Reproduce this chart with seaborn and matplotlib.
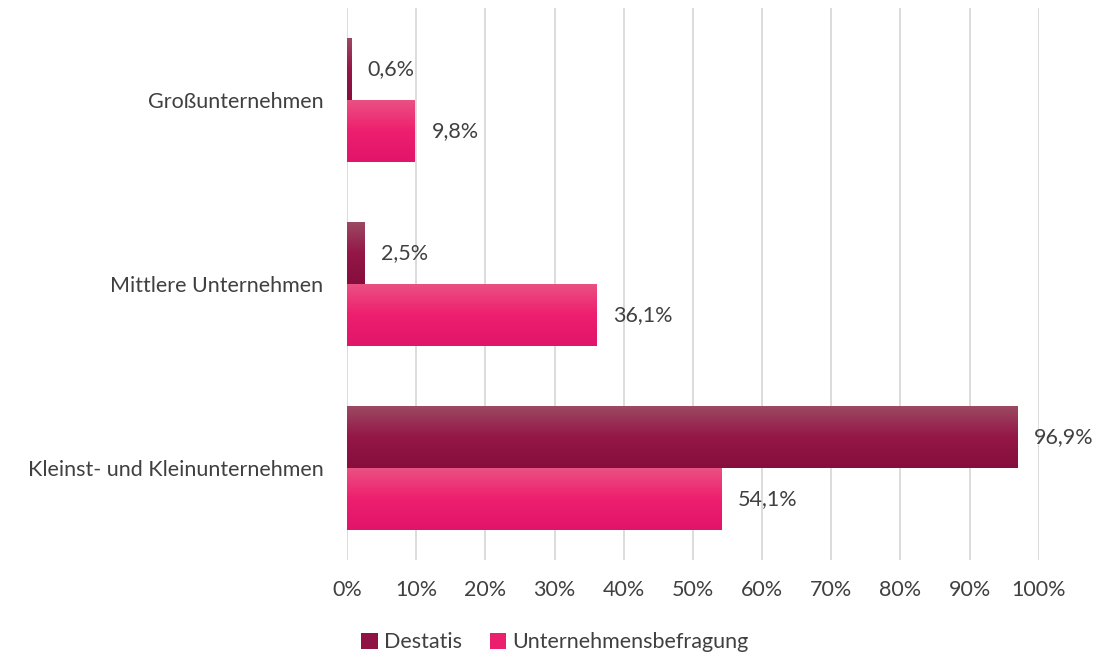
import numpy as np
import pandas as pd
import matplotlib
matplotlib.use("Agg")
import matplotlib.pyplot as plt
import seaborn as sns
from matplotlib.colors import LinearSegmentedColormap

categories = ["Großunternehmen", "Mittlere Unternehmen", "Kleinst- und Kleinunternehmen"]
series = ["Destatis", "Unternehmensbefragung"]
destatis = [0.6, 2.5, 96.9]
befragung = [9.8, 36.1, 54.1]
xticks = [0, 10, 20, 30, 40, 50, 60, 70, 80, 90, 100]

colors = {"Destatis": "#8E1244", "Unternehmensbefragung": "#EC1E6E"}
grads = {
    "Destatis": ["#9C4A63", "#941747", "#860E3C"],
    "Unternehmensbefragung": ["#EA5282", "#EE1F6F", "#E0146A"],
}

df = pd.DataFrame({
    "Kategorie": categories * 2,
    "Serie": [series[0]] * 3 + [series[1]] * 3,
    "Wert": destatis + befragung,
})

sns.set_theme(style="white")
plt.rcParams["font.family"] = ["Lato", "DejaVu Sans"]
txt = "#404040"
fs = 15.5

fig = plt.figure(figsize=(11.17, 6.56), dpi=100)
ax = fig.add_axes([0.3107, 0.146, 0.6195, 0.842])

sns.barplot(data=df, y="Kategorie", x="Wert", hue="Serie", order=categories,
            hue_order=series, palette=colors, orient="h", width=0.674, gap=0,
            ax=ax, legend=True, saturation=1, edgecolor="none", linewidth=0)

ax.set_xticks(xticks)
ax.set_xticklabels([f"{t}%" for t in xticks], fontsize=fs, color=txt)
ax.tick_params(axis="y", length=0, pad=17, labelsize=fs, labelcolor=txt)
ax.tick_params(axis="x", length=0, pad=14)
ax.set_xlabel("")
ax.set_ylabel("")
for s in ax.spines.values():
    s.set_visible(False)
ax.xaxis.grid(True, color="#D9D9D9", linewidth=1.3)
ax.set_axisbelow(True)

# gradients + labels
for container, name in zip(ax.containers, series):
    cmap = LinearSegmentedColormap.from_list(name, grads[name])
    for patch in container:
        x0, y0 = patch.get_x(), patch.get_y()
        w, h = patch.get_width(), patch.get_height()
        grad = np.linspace(0, 1, 64).reshape(-1, 1)
        im = ax.imshow(grad, cmap=cmap, aspect="auto",
                       extent=[x0, x0 + w, y0 + h, y0], origin="upper",
                       zorder=patch.get_zorder() + 0.1)
        im.set_clip_path(patch)
    ax.bar_label(container, labels=[f"{v:.1f}".replace(".", ",") + "%" for v in container.datavalues],
                 padding=12, fontsize=fs, color=txt)

ax.set_xlim(0, 100.05)
ax.set_ylim(2.5, -0.5)

handles, labels = ax.get_legend_handles_labels()
ax.get_legend().remove()
leg = fig.legend(handles, labels, loc="center", bbox_to_anchor=(0.497, 0.021), ncol=2,
                 frameon=False, fontsize=fs, handlelength=0.75, handleheight=0.75,
                 handletextpad=0.3, columnspacing=1.3, borderaxespad=0, borderpad=0)
for t in leg.get_texts():
    t.set_color(txt)
for hndl, name in zip(leg.legend_handles, series):
    hndl.set_facecolor(colors[name])

fig.savefig("out.png", dpi=100)
